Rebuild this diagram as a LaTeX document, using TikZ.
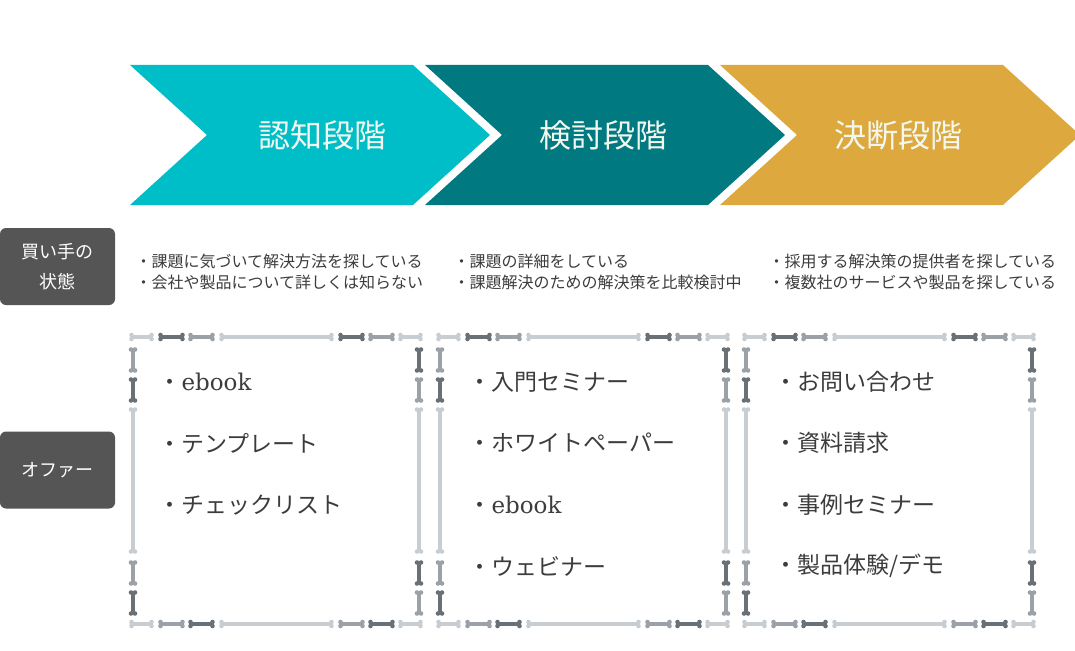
\documentclass[tikz,border=0pt]{standalone}
\usepackage{fontspec}
\setmainfont{Noto Sans CJK JP}
\newfontfamily\latinserif{DejaVu Serif}
\usepackage{tikz}
\usepackage{xcolor}

\definecolor{awarecol}{RGB}{0,190,200}
\definecolor{considercol}{RGB}{0,122,128}
\definecolor{decidecol}{RGB}{221,169,62}
\definecolor{stagewhite}{RGB}{242,248,240}
\definecolor{sidegray}{RGB}{85,85,85}
\definecolor{inkgray}{RGB}{60,60,60}
\definecolor{boneL}{RGB}{200,205,210}
\definecolor{boneM}{RGB}{155,161,167}
\definecolor{boneD}{RGB}{105,112,118}

% bone pieces of the offer frames
\newcommand\hbone[4]{% x1, x2, y, colour
  \draw[line width=3.2pt, color=#4] (#1,#3) -- (#2,#3);
  \fill[color=#4] (#1+1.5,#3-2) circle (2.3pt) (#1+1.5,#3+2) circle (2.3pt)
                  (#2-1.5,#3-2) circle (2.3pt) (#2-1.5,#3+2) circle (2.3pt);}
\newcommand\vbone[4]{% x, y1, y2, colour
  \draw[line width=3.2pt, color=#4] (#1,#2) -- (#1,#3);
  \fill[color=#4] (#1-2,#2+1.5) circle (2.3pt) (#1+2,#2+1.5) circle (2.3pt)
                  (#1-2,#3-1.5) circle (2.3pt) (#1+2,#3-1.5) circle (2.3pt);}

\begin{document}
\begin{tikzpicture}[x=1pt, y=-1pt,
    stagetext/.style={text=stagewhite, font=\fontsize{32}{38}\selectfont},
    sidebox/.style={fill=sidegray, rounded corners=6pt, minimum width=115pt,
      minimum height=77pt, text=white, align=center, font=\fontsize{18}{30}\selectfont},
    statetext/.style={anchor=west, align=left, text=inkgray, font=\fontsize{16}{21}\selectfont},
    offeritem/.style={anchor=west, text=inkgray, font=\fontsize{23}{28}\selectfont}]
    \useasboundingbox (0,0) rectangle (1075,650);
    % stage arrows
    \foreach \x/\col/\tx/\nm/\txt in {130/awarecol/322/aware/認知段階,
        425/considercol/603/consider/検討段階, 720/decidecol/898/decide/決断段階}{
      \fill[color=\col] (\x,65) -- (\x+283,65) -- (\x+360,135) -- (\x+283,205)
        -- (\x,205) -- (\x+77,135) -- cycle;
      \node[stagetext] (\nm) at (\tx,135) {\txt};
    }
    % row labels
    \node[sidebox] (buyer) at (57.5,266.5) {買い手の\\状態};
    \node[sidebox] (offer) at (57.5,470) {オファー};
    % buyer state
    \node[statetext] (needA) at (132,271.5) {・課題に気づいて解決方法を探している\\・会社や製品について詳しくは知らない};
    \node[statetext] (needB) at (450,271.5) {・課題の詳細をしている\\・課題解決のための解決策を比較検討中};
    \node[statetext] (needC) at (765,271.5) {・採用する解決策の提供者を探している\\・複数社のサービスや製品を探している};
    % offer frames
    \foreach \o in {0,307,613}{
      \foreach \a/\b/\col in {130/153/boneL,159/184/boneD,189/214/boneM,220/333/boneL,
          339/364/boneD,369/394/boneM,399/422/boneL}
        \hbone{\a+\o}{\b+\o}{337}{\col};
      \foreach \a/\b/\col in {130/153/boneL,159/184/boneM,189/214/boneD,220/333/boneL,
          339/364/boneM,369/394/boneD,399/422/boneL}
        \hbone{\a+\o}{\b+\o}{624}{\col};
      \foreach \a/\b/\col in {348/372/boneM,378/402/boneD,408/553/boneL,561/585/boneM,591/615/boneD}
        \vbone{133+\o}{\a}{\b}{\col};
      \foreach \a/\b/\col in {348/372/boneD,378/402/boneM,408/553/boneL,561/585/boneD,591/615/boneM}
        \vbone{419+\o}{\a}{\b}{\col};
    }
    % offers
    \node[offeritem] (offA1) at (155,382) {・{\latinserif ebook}};
    \node[offeritem] (offA2) at (155,443) {・テンプレート};
    \node[offeritem] (offA3) at (155,505) {・チェックリスト};
    \node[offeritem] (offB1) at (465,382) {・入門セミナー};
    \node[offeritem] (offB2) at (465,443) {・ホワイトペーパー};
    \node[offeritem] (offB3) at (465,505) {・{\latinserif ebook}};
    \node[offeritem] (offB4) at (465,566) {・ウェビナー};
    \node[offeritem] (offC1) at (771,382) {・お問い合わせ};
    \node[offeritem] (offC2) at (771,443) {・資料請求};
    \node[offeritem] (offC3) at (771,505) {・事例セミナー};
    \node[offeritem] (offC4) at (771,566) {・製品体験/デモ};
\end{tikzpicture}
\end{document}
